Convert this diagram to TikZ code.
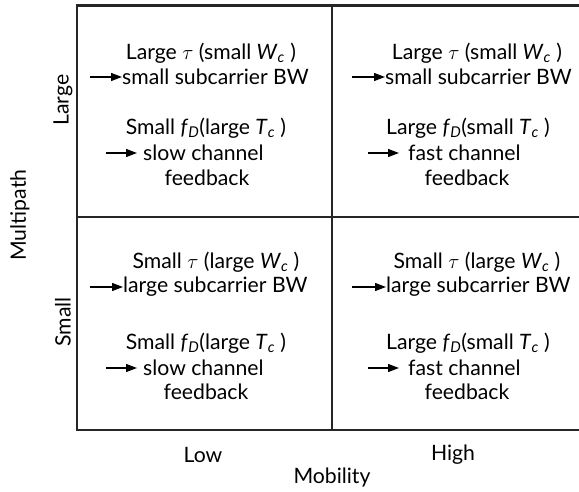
\documentclass[tikz,border=0pt]{standalone}
\usepackage{fontspec}
\setmainfont{Lato}
\usetikzlibrary{arrows.meta}
% italic symbol with italic subscript, e.g. W_c, f_D, T_c
\newcommand{\isym}[2]{\textit{#1}\textsubscript{\textit{#2}}}
\tikzset{
  lbl/.style={font=\fontsize{21.2}{25}\selectfont, inner sep=0pt},
  axl/.style={font=\fontsize{21.2}{25}\selectfont, inner sep=0pt},
  arr/.style={-{Triangle[length=11pt,width=8pt]}, line width=1.2pt},
  gridline/.style={line width=2.4pt, line cap=rect, draw=black!85},
}
\begin{document}
\begin{tikzpicture}[x=1pt,y=-1pt]
\useasboundingbox (0,0) rectangle (579,492);
\clip (0,0) rectangle (579,492);
\fill[white] (0,0) rectangle (579,492);

% quadrant frame
\draw[gridline] (600,5.5) -- (77,5.5) -- (77,430) -- (600,430);
\draw[gridline] (77,217) -- (600,217);
\draw[gridline] (332,5.5) -- (332,430);

% top-left: large multipath, low mobility
\node[lbl] (tl1) at (211,53) {Large $\tau$ (small \isym{W}{c} )};
\node[lbl,anchor=west] (tl2) at (122,77) {small subcarrier BW};
\coordinate (tl2a) at (90,77);
\draw[arr] (tl2a) -- (tl2.west);
\node[lbl] (tl3) at (206,128) {Small \isym{f}{D}(large \isym{T}{c} )};
\node[lbl,anchor=west] (tl4) at (143,153) {slow channel};
\coordinate (tl4a) at (106,153);
\draw[arr,shorten >=6pt] (tl4a) -- (tl4.west);
\node[lbl] (tl5) at (207,178) {feedback};

% top-right: large multipath, high mobility
\node[lbl] (tr1) at (477,53) {Large $\tau$ (small \isym{W}{c} )};
\node[lbl,anchor=west] (tr2) at (385,77) {small subcarrier BW};
\coordinate (tr2a) at (352,77);
\draw[arr] (tr2a) -- (tr2.west);
\node[lbl] (tr3) at (468,128) {Large \isym{f}{D}(small \isym{T}{c} )};
\node[lbl,anchor=west] (tr4) at (408,153) {fast channel};
\coordinate (tr4a) at (368,153);
\draw[arr,shorten >=9pt] (tr4a) -- (tr4.west);
\node[lbl] (tr5) at (467,178) {feedback};

% bottom-left: small multipath, low mobility
\node[lbl] (bl1) at (216,262) {Small $\tau$ (large \isym{W}{c} )};
\node[lbl,anchor=west] (bl2) at (123,287) {large subcarrier BW};
\coordinate (bl2a) at (90,287);
\draw[arr] (bl2a) -- (bl2.west);
\node[lbl] (bl3) at (206,343) {Small \isym{f}{D}(large \isym{T}{c} )};
\node[lbl,anchor=west] (bl4) at (143,368) {slow channel};
\coordinate (bl4a) at (106,368);
\draw[arr,shorten >=6pt] (bl4a) -- (bl4.west);
\node[lbl] (bl5) at (206,392) {feedback};

% bottom-right: small multipath, high mobility
\node[lbl] (br1) at (477,262) {Small $\tau$ (large \isym{W}{c} )};
\node[lbl,anchor=west] (br2) at (386,287) {large subcarrier BW};
\coordinate (br2a) at (352,287);
\draw[arr] (br2a) -- (br2.west);
\node[lbl] (br3) at (468,343) {Large \isym{f}{D}(small \isym{T}{c} )};
\node[lbl,anchor=west] (br4) at (408,368) {fast channel};
\coordinate (br4a) at (368,368);
\draw[arr,shorten >=9pt] (br4a) -- (br4.west);
\node[lbl] (br5) at (467,392) {feedback};

% axis labels
\node[axl,rotate=90] (ylarge) at (63,100) {Large};
\node[axl,rotate=90] (ysmall) at (63,322) {Small};
\node[axl,rotate=90] (yaxis) at (20,215) {Multipath};
\node[axl] (xlow) at (203,455) {Low};
\node[axl] (xhigh) at (453,455) {High};
\node[axl] (xaxis) at (332,478) {Mobility};
\end{tikzpicture}
\end{document}
